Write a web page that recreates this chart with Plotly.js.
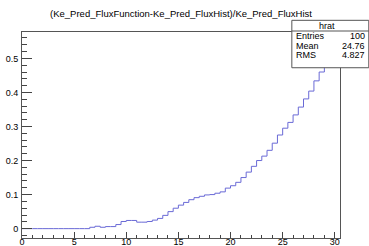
<!DOCTYPE html>
<html><head><meta charset="utf-8">
<script src="https://cdn.plot.ly/plotly-3.0.1.min.js"></script>
<style>html,body{margin:0;padding:0;background:#fff;}#c{width:369px;height:246px;}</style>
</head><body><div id="c"></div>
<script>
// Histogram definition
const histName = "hrat";
const titleText = "(Ke_Pred_FluxFunction-Ke_Pred_FluxHist)/Ke_Pred_FluxHist";
const xMin = 0;
const binWidth = 0.5;
const binValues = [
  0,0,0,0,0,0,0,0,0,0,0,0,0,
  0.004,0.007,0.004,0.006,0.006,0.012,0.021,0.024,0.024,0.019,
  0.019,0.021,0.025,0.030,0.039,0.050,0.060,0.069,0.077,0.085,
  0.091,0.095,0.099,0.100,0.104,0.108,0.119,0.126,0.136,0.150,
  0.166,0.183,0.200,0.213,0.230,0.251,0.275,0.295,0.312,0.334,
  0.357,0.381,0.404,0.434,0.460,0.490,0.520,0.550
];
const statLabels = ["Entries","Mean","RMS"];
const statValues = ["100","24.76","4.827"];
const xTickVals = [0,5,10,15,20,25,30];
const yTickVals = [0,0.1,0.2,0.3,0.4,0.5];
const yTickText = ["0","0.1","0.2","0.3","0.4","0.5"];

// build step line from bin edges
const xs = [], ys = [];
for (let i = 0; i < binValues.length; i++) { xs.push(xMin + i*binWidth); ys.push(binValues[i]); }
xs.push(xMin + binValues.length*binWidth); ys.push(binValues[binValues.length-1]);
const xMax = xMin + binValues.length*binWidth;
const vmax = Math.max(...binValues), vmin = Math.min(...binValues);
const yLo = vmin - 0.05*(vmax-vmin), yHi = vmax + 0.05*(vmax-vmin);

const W = 369, H = 246;
const M = {l:21.5, r:29.3, t:31.7, b:8};
const pw = W - M.l - M.r, ph = H - M.t - M.b;
const px = x => (x - M.l)/pw;
const py = y => (H - M.b - y)/ph;
const F = "Liberation Sans, Arial, sans-serif";
const lc = "#555";

const box = {x0:291.5, x1:368.5, y0:20, y1:67.5, sep:30.7};
const shapes = [
  {type:'rect', xref:'paper', yref:'paper', x0:px(box.x0), x1:px(box.x1), y0:py(box.y1), y1:py(box.y0),
   line:{color:lc,width:1}, fillcolor:'#fff', layer:'above'},
  {type:'line', xref:'paper', yref:'paper', x0:px(box.x0), x1:px(box.x1), y0:py(box.sep), y1:py(box.sep),
   line:{color:lc,width:1}, layer:'above'}
];
const ann = [
  {xref:'paper', yref:'paper', x:px(327), y:py(25.4), text:histName, showarrow:false, xanchor:'center', yanchor:'middle', font:{family:F,size:9,color:'#000'}}
];
const rowsY = [36, 45.6, 55.2];
statLabels.forEach((s,i)=>{
  ann.push({xref:'paper', yref:'paper', x:px(293.5), y:py(rowsY[i]), text:s, showarrow:false, xanchor:'left', yanchor:'middle', font:{family:F,size:9,color:'#000'}});
  ann.push({xref:'paper', yref:'paper', x:px(366.5), y:py(rowsY[i]), text:statValues[i], showarrow:false, xanchor:'right', yanchor:'middle', font:{family:F,size:9,color:'#000'}});
});

Plotly.newPlot('c', [{
  x: xs, y: ys, type:'scatter', mode:'lines', line:{shape:'hv', color:'#6a6ad6', width:1},
  hoverinfo:'skip', cliponaxis:true
}], {
  width:W, height:H, margin:M, paper_bgcolor:'#fff', plot_bgcolor:'#fff', showlegend:false,
  title:{text:titleText, x:181/W, xanchor:'center', y:1-13.5/H, yanchor:'middle', font:{family:F,size:9.5,color:'#000'}},
  xaxis:{range:[xMin,xMax], tickvals:xTickVals, ticks:'inside', ticklen:6.5, tickcolor:'#444', tickwidth:1,
    minor:{dtick:1, ticks:'inside', ticklen:3.5, tickcolor:'#444', tickwidth:1, showgrid:false},
    showgrid:false, zeroline:false, showline:true, mirror:true, linecolor:lc, linewidth:1,
    ticklabelstandoff:-5,
    tickfont:{family:F,size:9,color:'#000'}, automargin:false, fixedrange:true},
  yaxis:{range:[yLo,yHi], tickvals:yTickVals, ticktext:yTickText, ticks:'inside', ticklen:9.5, tickcolor:'#444', tickwidth:1,
    minor:{dtick:0.02, tick0:0, ticks:'inside', ticklen:4.75, tickcolor:'#444', tickwidth:1, showgrid:false},
    showgrid:false, zeroline:false, showline:true, mirror:true, linecolor:lc, linewidth:1,
    ticklabelstandoff:1,
    tickfont:{family:F,size:9,color:'#000'}, automargin:false, fixedrange:true},
  shapes:shapes, annotations:ann
}, {staticPlot:true, displayModeBar:false});
</script></body></html>
